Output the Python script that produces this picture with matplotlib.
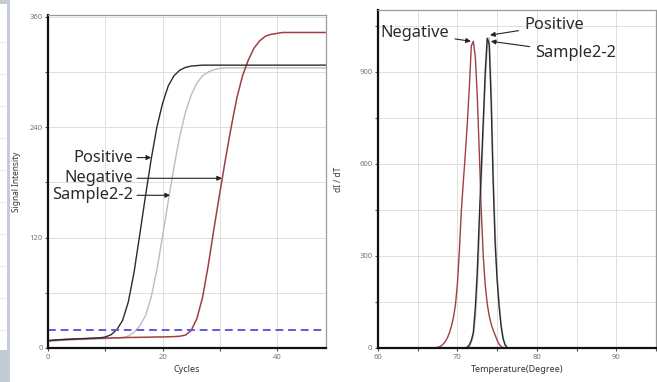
import matplotlib
matplotlib.use("Agg")
import matplotlib.pyplot as plt
from matplotlib.patches import Rectangle
from matplotlib.ticker import MultipleLocator

# ---- amplification data (signal per cycle) ----
cycles = list(range(0, 51))
positive_amp = [8, 8.5, 9, 9.3, 9.6, 10, 10.2, 10.5, 10.8, 11,
                12, 14.5, 20, 30, 50, 82, 123, 165, 205, 240,
                266, 285, 296, 302, 305, 306.5, 307] + [307.5] * 24
sample_amp = [7, 7.5, 8, 8.3, 8.6, 9, 9.2, 9.5, 9.7, 10,
              10.2, 10.5, 10.8, 11.5, 13, 17, 24, 35, 55, 85,
              122, 160, 197, 230, 256, 275, 288, 296, 300, 302.5,
              304] + [304.5] * 20
negative_amp = [8, 8.5, 9, 9.3, 9.6, 10, 10, 10.2, 10.4, 10.6,
                10.8, 11, 11, 11.2, 11.4, 11.5, 11.6, 11.7, 11.8, 12,
                12, 12.2, 12.4, 12.8, 14, 19, 32, 55, 90, 130,
                168, 205, 240, 272, 296, 313, 326, 334, 339, 341,
                342] + [343] * 10
threshold = 20

# ---- melt curve data (dI/dT on a 0.25 degree grid, 66..77) ----
melt_temp = [66 + 0.25 * i for i in range(45)]
negative_melt = [0, 0, 0, 0,
                 0, 1, 2, 4,
                 8, 14, 22, 34,
                 50, 72, 100, 140,
                 210, 320, 450, 545,
                 635, 735, 850, 985,
                 1000, 950, 820, 640,
                 450, 300, 205, 145,
                 105, 78, 58, 42,
                 25, 12, 5, 1,
                 0, 0, 0, 0, 0]
positive_melt = [0] * 20 + [0, 3, 10, 25,
                            50, 130, 250, 420,
                            580, 740, 900, 1010,
                            990, 800, 540, 340,
                            220, 135, 70, 30,
                            10, 2, 0, 0, 0]
sample_melt = [0] * 20 + [0, 0, 5, 18,
                          38, 95, 200, 360,
                          530, 700, 860, 980,
                          1012, 860, 580, 380,
                          240, 150, 80, 35,
                          12, 3, 0, 0, 0]

labels = ["Positive", "Negative", "Sample2-2"]
c_pos = "#2b2b2b"
c_neg = "#9e3f45"
c_smp = "#bdbdbd"

plt.rcParams["font.family"] = ["Noto Sans", "DejaVu Sans"]

fig = plt.figure(figsize=(6.57, 3.82), dpi=100)
W, H = 657, 382


def px_axes(x0, y0, x1, y1):
    return fig.add_axes([x0 / W, 1 - y1 / H, (x1 - x0) / W, (y1 - y0) / H])


# side strip of the application window
fig.patches.append(Rectangle((0, 0), 10 / W, 1, transform=fig.transFigure,
                             facecolor="#c3cbd6", edgecolor="none", zorder=0))
fig.patches.append(Rectangle((0, 1 - 350 / H), 7 / W, 346 / H, transform=fig.transFigure,
                             facecolor="#ffffff", edgecolor="none", zorder=0))
for yy in range(42, 345, 32):
    fig.lines.append(plt.Line2D([0, 7 / W], [1 - yy / H, 1 - yy / H],
                                transform=fig.transFigure, color="#e2e6ec", lw=0.6))


def style(ax):
    ax.grid(True, which="both", color="#dedede", lw=0.7)
    ax.set_axisbelow(True)
    for s in ("left", "bottom"):
        ax.spines[s].set_color("#111111")
        ax.spines[s].set_linewidth(1.6)
    for s in ("top", "right"):
        ax.spines[s].set_color("#9a9a9a")
        ax.spines[s].set_linewidth(0.9)
    ax.tick_params(which="both", direction="out", length=2.5, width=0.8,
                   color="#555555", labelsize=5.5, labelcolor="#777777", pad=1.5)


# ---- left: amplification plot ----
ax1 = px_axes(48.3, 15, 326, 348)
ax1.plot(cycles, sample_amp, color=c_smp, lw=1.0)
ax1.plot(cycles, negative_amp, color=c_neg, lw=1.1)
ax1.plot(cycles, positive_amp, color=c_pos, lw=1.0)
ax1.axhline(threshold, color="#5a5ae6", lw=1.4, ls=(0, (4, 2.5)))
ax1.set_xlim(0, 48.6)
ax1.set_ylim(0, 362)
ax1.xaxis.set_major_locator(MultipleLocator(20))
ax1.xaxis.set_minor_locator(MultipleLocator(10))
ax1.yaxis.set_major_locator(MultipleLocator(120))
ax1.yaxis.set_minor_locator(MultipleLocator(60))
style(ax1)
ax1.set_xlabel("Cycles", fontsize=6.5, fontweight="bold", color="#333333", labelpad=3)
ax1.set_ylabel("Signal Intensity", fontsize=6, fontweight="bold", color="#333333", labelpad=6)

arrow = dict(arrowstyle="-|>", color="#222222", lw=0.8, mutation_scale=7,
             shrinkA=1, shrinkB=0)
txt = dict(fontsize=11.8, color="#2a2a2a", ha="right", va="center")
amp_tips = {"Positive": (18.0, 207), "Negative": (30.4, 184.5), "Sample2-2": (21.3, 166)}
for name in labels:
    tx, ty = amp_tips[name]
    ax1.annotate(name, xy=(tx, ty), xytext=(14.8, ty), arrowprops=arrow, **txt)

# ---- right: melt curve ----
ax2 = px_axes(378, 10, 656, 348)
ax2.plot(melt_temp, negative_melt, color=c_neg, lw=1.0)
ax2.plot(melt_temp, sample_melt, color=c_smp, lw=1.0)
ax2.plot(melt_temp, positive_melt, color=c_pos, lw=1.0)
ax2.set_xlim(60, 95)
ax2.set_ylim(0, 1102)
ax2.xaxis.set_major_locator(MultipleLocator(10))
ax2.xaxis.set_minor_locator(MultipleLocator(5))
ax2.yaxis.set_major_locator(MultipleLocator(300))
ax2.yaxis.set_minor_locator(MultipleLocator(150))
style(ax2)
ax2.set_xlabel("Temperature(Degree)", fontsize=6.5, fontweight="bold", color="#333333", labelpad=3)
ax2.set_ylabel("dI / dT", fontsize=6, fontweight="bold", color="#333333", labelpad=12)

arrow2 = dict(arrowstyle="-|>", color="#222222", lw=0.8, mutation_scale=7,
              shrinkA=2, shrinkB=0)
ax2.annotate("Negative", xy=(71.7, 1000), xytext=(69.0, 1027), arrowprops=arrow2,
             fontsize=11.8, color="#2a2a2a", ha="right", va="center")
ax2.annotate("Positive", xy=(74.1, 1020), xytext=(78.4, 1053), arrowprops=arrow2,
             fontsize=11.8, color="#2a2a2a", ha="left", va="center")
ax2.annotate("Sample2-2", xy=(74.2, 1000), xytext=(79.8, 962), arrowprops=arrow2,
             fontsize=11.8, color="#2a2a2a", ha="left", va="center")

fig.savefig("out.png", dpi=100)
